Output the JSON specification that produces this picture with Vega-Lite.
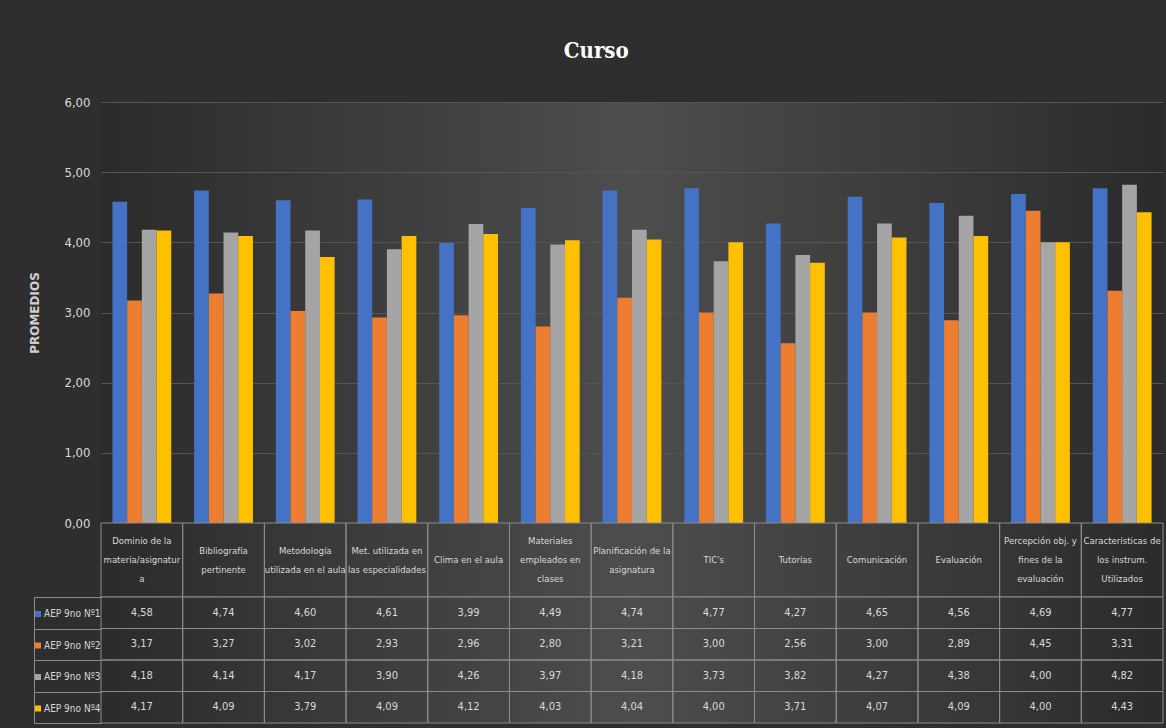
{
  "$schema": "https://vega.github.io/schema/vega-lite/v6.json",
  "background": "#2e2e2e",
  "padding": {"left": 28, "top": 40, "right": 3, "bottom": 5},
  "spacing": 0,
  "bounds": "flush",
  "title": {"text": "Curso", "anchor": "middle", "color": "#ffffff", "font": "DejaVu Serif Condensed", "fontSize": 22, "fontWeight": "bold", "offset": 33},
  "config": {
    "locale": {"number": {"decimal": ",", "thousands": ".", "grouping": [3], "currency": ["", " €"]}},
    "font": "DejaVu Sans Condensed, sans-serif",
    "view": {"stroke": null, "fill": {"gradient": "linear", "x1": 0, "x2": 1, "y1": 0, "y2": 0, "stops": [{"offset": 0, "color": "#2b2b2b"}, {"offset": 0.5, "color": "#4d4d4d"}, {"offset": 1, "color": "#2b2b2b"}]}}
  },
  "resolve": {"scale": {"color": "independent"}},
  "datasets": {
    "d": [
      {"category": "Dominio de la|materia/asignatur|a", "series": "AEP 9no Nº1", "value": 4.58},
      {"category": "Dominio de la|materia/asignatur|a", "series": "AEP 9no Nº2", "value": 3.17},
      {"category": "Dominio de la|materia/asignatur|a", "series": "AEP 9no Nº3", "value": 4.18},
      {"category": "Dominio de la|materia/asignatur|a", "series": "AEP 9no Nº4", "value": 4.17},
      {"category": "Bibliografía|pertinente", "series": "AEP 9no Nº1", "value": 4.74},
      {"category": "Bibliografía|pertinente", "series": "AEP 9no Nº2", "value": 3.27},
      {"category": "Bibliografía|pertinente", "series": "AEP 9no Nº3", "value": 4.14},
      {"category": "Bibliografía|pertinente", "series": "AEP 9no Nº4", "value": 4.09},
      {"category": "Metodología|utilizada en el aula", "series": "AEP 9no Nº1", "value": 4.60},
      {"category": "Metodología|utilizada en el aula", "series": "AEP 9no Nº2", "value": 3.02},
      {"category": "Metodología|utilizada en el aula", "series": "AEP 9no Nº3", "value": 4.17},
      {"category": "Metodología|utilizada en el aula", "series": "AEP 9no Nº4", "value": 3.79},
      {"category": "Met. utilizada en|las especialidades", "series": "AEP 9no Nº1", "value": 4.61},
      {"category": "Met. utilizada en|las especialidades", "series": "AEP 9no Nº2", "value": 2.93},
      {"category": "Met. utilizada en|las especialidades", "series": "AEP 9no Nº3", "value": 3.90},
      {"category": "Met. utilizada en|las especialidades", "series": "AEP 9no Nº4", "value": 4.09},
      {"category": "Clima en el aula", "series": "AEP 9no Nº1", "value": 3.99},
      {"category": "Clima en el aula", "series": "AEP 9no Nº2", "value": 2.96},
      {"category": "Clima en el aula", "series": "AEP 9no Nº3", "value": 4.26},
      {"category": "Clima en el aula", "series": "AEP 9no Nº4", "value": 4.12},
      {"category": "Materiales|empleados en|clases", "series": "AEP 9no Nº1", "value": 4.49},
      {"category": "Materiales|empleados en|clases", "series": "AEP 9no Nº2", "value": 2.80},
      {"category": "Materiales|empleados en|clases", "series": "AEP 9no Nº3", "value": 3.97},
      {"category": "Materiales|empleados en|clases", "series": "AEP 9no Nº4", "value": 4.03},
      {"category": "Planificación de la|asignatura", "series": "AEP 9no Nº1", "value": 4.74},
      {"category": "Planificación de la|asignatura", "series": "AEP 9no Nº2", "value": 3.21},
      {"category": "Planificación de la|asignatura", "series": "AEP 9no Nº3", "value": 4.18},
      {"category": "Planificación de la|asignatura", "series": "AEP 9no Nº4", "value": 4.04},
      {"category": "TIC's", "series": "AEP 9no Nº1", "value": 4.77},
      {"category": "TIC's", "series": "AEP 9no Nº2", "value": 3.00},
      {"category": "TIC's", "series": "AEP 9no Nº3", "value": 3.73},
      {"category": "TIC's", "series": "AEP 9no Nº4", "value": 4.00},
      {"category": "Tutorías", "series": "AEP 9no Nº1", "value": 4.27},
      {"category": "Tutorías", "series": "AEP 9no Nº2", "value": 2.56},
      {"category": "Tutorías", "series": "AEP 9no Nº3", "value": 3.82},
      {"category": "Tutorías", "series": "AEP 9no Nº4", "value": 3.71},
      {"category": "Comunicación", "series": "AEP 9no Nº1", "value": 4.65},
      {"category": "Comunicación", "series": "AEP 9no Nº2", "value": 3.00},
      {"category": "Comunicación", "series": "AEP 9no Nº3", "value": 4.27},
      {"category": "Comunicación", "series": "AEP 9no Nº4", "value": 4.07},
      {"category": "Evaluación", "series": "AEP 9no Nº1", "value": 4.56},
      {"category": "Evaluación", "series": "AEP 9no Nº2", "value": 2.89},
      {"category": "Evaluación", "series": "AEP 9no Nº3", "value": 4.38},
      {"category": "Evaluación", "series": "AEP 9no Nº4", "value": 4.09},
      {"category": "Percepción obj. y|fines de la|evaluación", "series": "AEP 9no Nº1", "value": 4.69},
      {"category": "Percepción obj. y|fines de la|evaluación", "series": "AEP 9no Nº2", "value": 4.45},
      {"category": "Percepción obj. y|fines de la|evaluación", "series": "AEP 9no Nº3", "value": 4.00},
      {"category": "Percepción obj. y|fines de la|evaluación", "series": "AEP 9no Nº4", "value": 4.00},
      {"category": "Características de|los instrum.|Utilizados", "series": "AEP 9no Nº1", "value": 4.77},
      {"category": "Características de|los instrum.|Utilizados", "series": "AEP 9no Nº2", "value": 3.31},
      {"category": "Características de|los instrum.|Utilizados", "series": "AEP 9no Nº3", "value": 4.82},
      {"category": "Características de|los instrum.|Utilizados", "series": "AEP 9no Nº4", "value": 4.43}
    ]
  },
  "data": {"name": "d"},
  "vconcat": [
    {
      "width": 1062,
      "height": 421,
      "mark": {"type": "bar"},
      "encoding": {
        "x": {"field": "category", "type": "nominal", "sort": null, "axis": null, "scale": {"paddingInner": 0.28, "paddingOuter": 0.14}},
        "xOffset": {"field": "series", "type": "nominal", "sort": null, "scale": {"paddingInner": 0, "paddingOuter": 0}},
        "y": {"field": "value", "type": "quantitative", "scale": {"domain": [0, 6]},
          "axis": {"values": [0, 1, 2, 3, 4, 5, 6], "format": ".2f", "title": "PROMEDIOS", "titleFont": "DejaVu Sans", "titleFontWeight": "bold", "titleFontSize": 12, "titleColor": "#d0d0d0", "titlePadding": 22, "labelColor": "#d9d9d9", "labelFontSize": 13, "labelPadding": 11, "domain": false, "ticks": false, "gridColor": "#555555"}},
        "color": {"field": "series", "type": "nominal", "sort": null, "scale": {"range": ["#4472C4", "#ED7D31", "#A5A5A5", "#FFC000"]}, "legend": null}
      }
    },
    {
      "width": 1062,
      "height": 74,
      "transform": [{"filter": "datum.series === 'AEP 9no Nº1'"}],
      "layer": [
        {
          "mark": {"type": "rect", "fill": "transparent", "stroke": "#8c8c8c", "strokeWidth": 1},
          "encoding": {
            "x": {"field": "category", "type": "nominal", "sort": null, "axis": null, "scale": {"paddingInner": 0, "paddingOuter": 0}},
            "y": {"value": 0},
            "y2": {"value": "height"}
          }
        },
        {
          "mark": {"type": "text", "lineBreak": "|", "color": "#d9d9d9", "fontSize": 9.5, "lineHeight": 19, "baseline": "middle", "dy": {"expr": "-(length(split(datum.category, '|')) - 1) * 9.5"}},
          "encoding": {
            "x": {"field": "category", "type": "nominal", "sort": null, "axis": null, "scale": {"paddingInner": 0, "paddingOuter": 0}},
            "text": {"field": "category", "type": "nominal"}
          }
        }
      ]
    },
    {
      "width": 1062,
      "height": 126,
      "layer": [
        {
          "mark": {"type": "rect", "stroke": "#8c8c8c", "strokeWidth": 1, "fillOpacity": 0},
          "encoding": {
            "x": {"field": "category", "type": "nominal", "sort": null, "axis": null, "scale": {"paddingInner": 0, "paddingOuter": 0}},
            "y": {"field": "series", "type": "nominal", "sort": null, "scale": {"paddingInner": 0, "paddingOuter": 0},
              "axis": {"orient": "left", "offset": 67, "title": null, "labels": false, "domain": true, "domainColor": "#8c8c8c", "ticks": true, "tickBand": "extent", "tickSize": -67, "tickColor": "#8c8c8c"}},
            "fill": {"field": "series", "type": "nominal", "sort": null, "scale": {"range": ["#4472C4", "#ED7D31", "#A5A5A5", "#FFC000"]},
              "legend": {"orient": "none", "legendX": -68, "legendY": 507, "title": null, "symbolType": "square", "symbolSize": 36, "symbolOpacity": 1, "symbolStrokeWidth": 0, "labelColor": "#d9d9d9", "labelFontSize": 10, "rowPadding": 21.5, "padding": 0, "labelOffset": 1}}
          }
        },
        {
          "mark": {"type": "text", "color": "#d9d9d9", "fontSize": 11},
          "encoding": {
            "x": {"field": "category", "type": "nominal", "sort": null},
            "y": {"field": "series", "type": "nominal", "sort": null},
            "text": {"field": "value", "type": "quantitative", "format": ".2f"}
          }
        }
      ]
    }
  ]
}
